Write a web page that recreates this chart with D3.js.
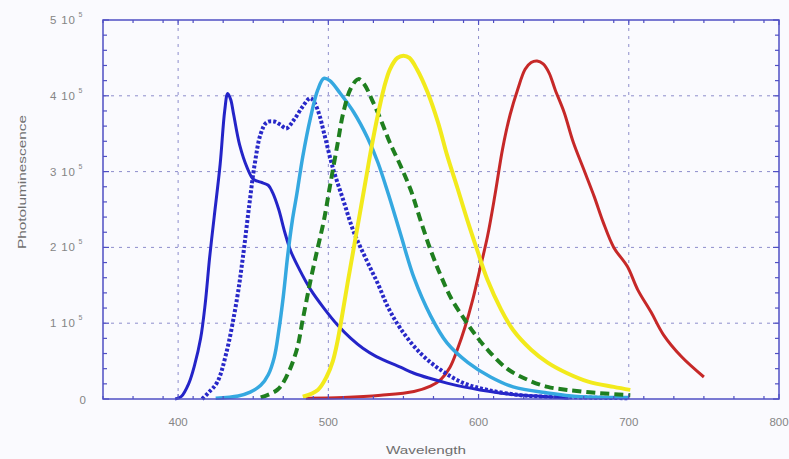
<!DOCTYPE html>
<html><head><meta charset="utf-8">
<script src="https://cdn.jsdelivr.net/npm/d3@7"></script>
<style>html,body{margin:0;padding:0;background:#fafafe;}svg{display:block;}</style>
</head><body>
<svg id="c" width="789" height="459"></svg>
<script>
// values in units of 10^5
const xTicks = [400, 500, 600, 700, 800];
const yTicks = [0, 1, 2, 3, 4, 5];

const s1x = [398, 402, 407, 411, 415, 418, 421, 424, 428, 431, 433, 435, 437, 441, 446, 450, 455, 460, 463, 467, 471, 475, 481, 488, 497, 506, 515, 523, 532, 548, 557, 568, 579, 590, 601, 623, 646, 660];
const s1y = [0, 0.03, 0.2, 0.45, 0.8, 1.25, 1.87, 2.4, 3.1, 3.8, 4.03, 3.95, 3.75, 3.35, 3.05, 2.9, 2.86, 2.82, 2.72, 2.5, 2.2, 1.95, 1.7, 1.45, 1.2, 0.98, 0.8, 0.67, 0.56, 0.42, 0.34, 0.27, 0.21, 0.16, 0.12, 0.06, 0.03, 0.01];

const s2x = [416, 420, 426, 432, 439, 443, 447, 451, 455, 459, 464, 468, 472, 477, 483, 488, 491, 494, 497, 503, 510, 517, 525, 533, 540, 548, 561, 575, 590, 606, 628, 646, 670, 700];
const s2y = [0, 0.08, 0.22, 0.6, 1.3, 1.85, 2.5, 3.1, 3.5, 3.65, 3.66, 3.62, 3.57, 3.68, 3.86, 3.97, 3.9, 3.75, 3.52, 3.05, 2.62, 2.2, 1.85, 1.52, 1.2, 0.93, 0.61, 0.38, 0.21, 0.12, 0.05, 0.03, 0.02, 0.01];

const s3x = [425, 440, 448, 455, 460, 464, 467, 470, 473, 476, 479, 483, 488, 493, 497, 501, 508, 517, 526, 533, 540, 548, 557, 568, 579, 593, 608, 623, 646, 668, 700];
const s3y = [0.01, 0.04, 0.09, 0.18, 0.32, 0.55, 0.9, 1.35, 1.9, 2.35, 2.7, 3.2, 3.7, 4.08, 4.23, 4.2, 4.03, 3.78, 3.45, 3.12, 2.7, 2.18, 1.6, 1.1, 0.74, 0.48, 0.29, 0.16, 0.08, 0.03, 0.02];

const s4x = [455, 466, 472, 479, 483, 488, 493, 497, 501, 506, 510, 515, 520, 524, 529, 535, 541, 548, 555, 561, 568, 575, 582, 590, 597, 606, 619, 633, 646, 659, 679, 701];
const s4y = [0.02, 0.12, 0.29, 0.65, 1.05, 1.55, 2.0, 2.35, 2.8, 3.35, 3.78, 4.1, 4.22, 4.15, 3.95, 3.68, 3.38, 3.08, 2.75, 2.38, 1.97, 1.62, 1.32, 1.07, 0.87, 0.65, 0.4, 0.25, 0.16, 0.12, 0.08, 0.05];

const s5x = [483, 493, 499, 503, 506, 509, 513, 517, 521, 525, 529, 533, 537, 541, 546, 550, 554, 559, 566, 573, 579, 586, 593, 599, 606, 615, 623, 635, 646, 659, 673, 690, 701];
const s5y = [0.03, 0.12, 0.3, 0.5, 0.75, 1.08, 1.55, 2.0, 2.45, 2.9, 3.35, 3.75, 4.1, 4.35, 4.5, 4.53, 4.5, 4.35, 4.05, 3.65, 3.22, 2.78, 2.33, 1.97, 1.57, 1.18, 0.91, 0.65, 0.48, 0.34, 0.23, 0.16, 0.12];

const s6x = [485, 510, 535, 557, 568, 575, 581, 586, 591, 596, 601, 606, 611, 616, 621, 626, 631, 635, 639, 643, 647, 651, 657, 663, 670, 677, 683, 690, 699, 706, 715, 723, 735, 750];
const s6y = [0.01, 0.02, 0.05, 0.1, 0.17, 0.26, 0.42, 0.66, 0.95, 1.3, 1.72, 2.15, 2.7, 3.3, 3.75, 4.08, 4.35, 4.44, 4.46, 4.42, 4.3, 4.08, 3.78, 3.39, 3.03, 2.67, 2.33, 2.0, 1.75, 1.44, 1.14, 0.85, 0.56, 0.29];

const svg = d3.select("#c");
const L = 103, R = 779, T = 20, B = 399;
const x = d3.scaleLinear().domain([350, 800]).range([L, R]);
const y = d3.scaleLinear().domain([0, 5]).range([B, T]);
const frame = "#4f4fc4", gridC = "#8d8dcc", txt = "#858585";
const font = "Arial, 'Liberation Sans', sans-serif";

svg.append("rect").attr("width", 789).attr("height", 459).attr("fill", "#fafafe");

// grid
const g = svg.append("g");
g.selectAll(".vg").data(xTicks.filter(d => d > 350 && d < 800)).join("line")
  .attr("x1", d => x(d)).attr("x2", d => x(d)).attr("y1", T).attr("y2", B)
  .attr("stroke", gridC).attr("stroke-width", 1).attr("stroke-dasharray", "3,5");
g.selectAll(".hg").data(yTicks.filter(d => d > 0 && d < 5)).join("line")
  .attr("y1", d => y(d)).attr("y2", d => y(d)).attr("x1", L).attr("x2", R)
  .attr("stroke", gridC).attr("stroke-width", 1).attr("stroke-dasharray", "3,5");

// series
const line = d3.line().x(d => x(d[0])).y(d => y(d[1])).curve(d3.curveCatmullRom.alpha(0.5));
const series = [
  {xs: s6x, ys: s6y, c: "#c62828", w: 3, dash: null},
  {xs: s1x, ys: s1y, c: "#2424c8", w: 3, dash: null},
  {xs: s2x, ys: s2y, c: "#2828c8", w: 4, dash: "3,2"},
  {xs: s3x, ys: s3y, c: "#35a8e0", w: 3.5, dash: null},
  {xs: s4x, ys: s4y, c: "#1f7f1f", w: 4, dash: "9,5"},
  {xs: s5x, ys: s5y, c: "#f2ea1c", w: 4, dash: null}
];
series.forEach(s => {
  svg.append("path").datum(s.xs.map((v, i) => [v, s.ys[i]]))
    .attr("d", line).attr("fill", "none").attr("stroke", s.c)
    .attr("stroke-width", s.w).attr("stroke-linejoin", "round")
    .attr("stroke-dasharray", s.dash);
});

// frame
svg.append("rect").attr("x", L).attr("y", T).attr("width", R - L).attr("height", B - T)
  .attr("fill", "none").attr("stroke", frame).attr("stroke-width", 1.5);

// ticks on all sides (inward)
const xMinor = d3.range(350, 801, 20).filter(v => !xTicks.includes(v));
const yMinor = d3.range(0, 5.001, 0.2).filter(v => Math.abs(v - Math.round(v)) > 0.01);
const tk = svg.append("g").attr("stroke", frame).attr("stroke-width", 1.2);
xTicks.forEach(v => {
  tk.append("line").attr("x1", x(v)).attr("x2", x(v)).attr("y1", B).attr("y2", B - 5);
  tk.append("line").attr("x1", x(v)).attr("x2", x(v)).attr("y1", T).attr("y2", T + 5);
});
xMinor.forEach(v => {
  tk.append("line").attr("x1", x(v)).attr("x2", x(v)).attr("y1", B).attr("y2", B - 3);
  tk.append("line").attr("x1", x(v)).attr("x2", x(v)).attr("y1", T).attr("y2", T + 3);
});
yTicks.forEach(v => {
  tk.append("line").attr("y1", y(v)).attr("y2", y(v)).attr("x1", L).attr("x2", L + 6);
  tk.append("line").attr("y1", y(v)).attr("y2", y(v)).attr("x1", R).attr("x2", R - 6);
});
yMinor.forEach(v => {
  tk.append("line").attr("y1", y(v)).attr("y2", y(v)).attr("x1", L).attr("x2", L + 4);
  tk.append("line").attr("y1", y(v)).attr("y2", y(v)).attr("x1", R).attr("x2", R - 4);
});

// x tick labels
svg.selectAll(".xl").data(xTicks).join("text")
  .attr("x", d => x(d)).attr("y", B + 27).attr("text-anchor", "middle")
  .attr("font-family", font).attr("font-size", 11.5)
  .attr("fill", txt).text(d => d);

// y tick labels
yTicks.forEach(v => {
  const t = svg.append("text").attr("y", y(v) + 4)
    .attr("font-family", font).attr("font-size", 11.5).attr("fill", txt);
  if (v === 0) {
    t.attr("x", 86).attr("text-anchor", "end").attr("y", y(v) + 5).text("0");
  } else {
    t.attr("x", 50).attr("text-anchor", "start");
    t.append("tspan").attr("letter-spacing", 0.8).text(v + " 10");
    t.append("tspan").attr("font-size", 7).attr("dy", -7).attr("dx", 3).text("5");
  }
});

// axis titles
svg.append("text").attr("x", 426).attr("y", 454).attr("text-anchor", "middle")
  .attr("font-family", font).attr("font-size", 11.5)
  .attr("textLength", 80).attr("lengthAdjust", "spacingAndGlyphs")
  .attr("fill", "#6e6e6e").text("Wavelength");
svg.append("text").attr("transform", "translate(26,182) rotate(-90)").attr("text-anchor", "middle")
  .attr("font-family", font).attr("font-size", 11.5)
  .attr("textLength", 134).attr("lengthAdjust", "spacingAndGlyphs")
  .attr("fill", "#6e6e6e").text("Photoluminescence");
</script>
</body></html>
